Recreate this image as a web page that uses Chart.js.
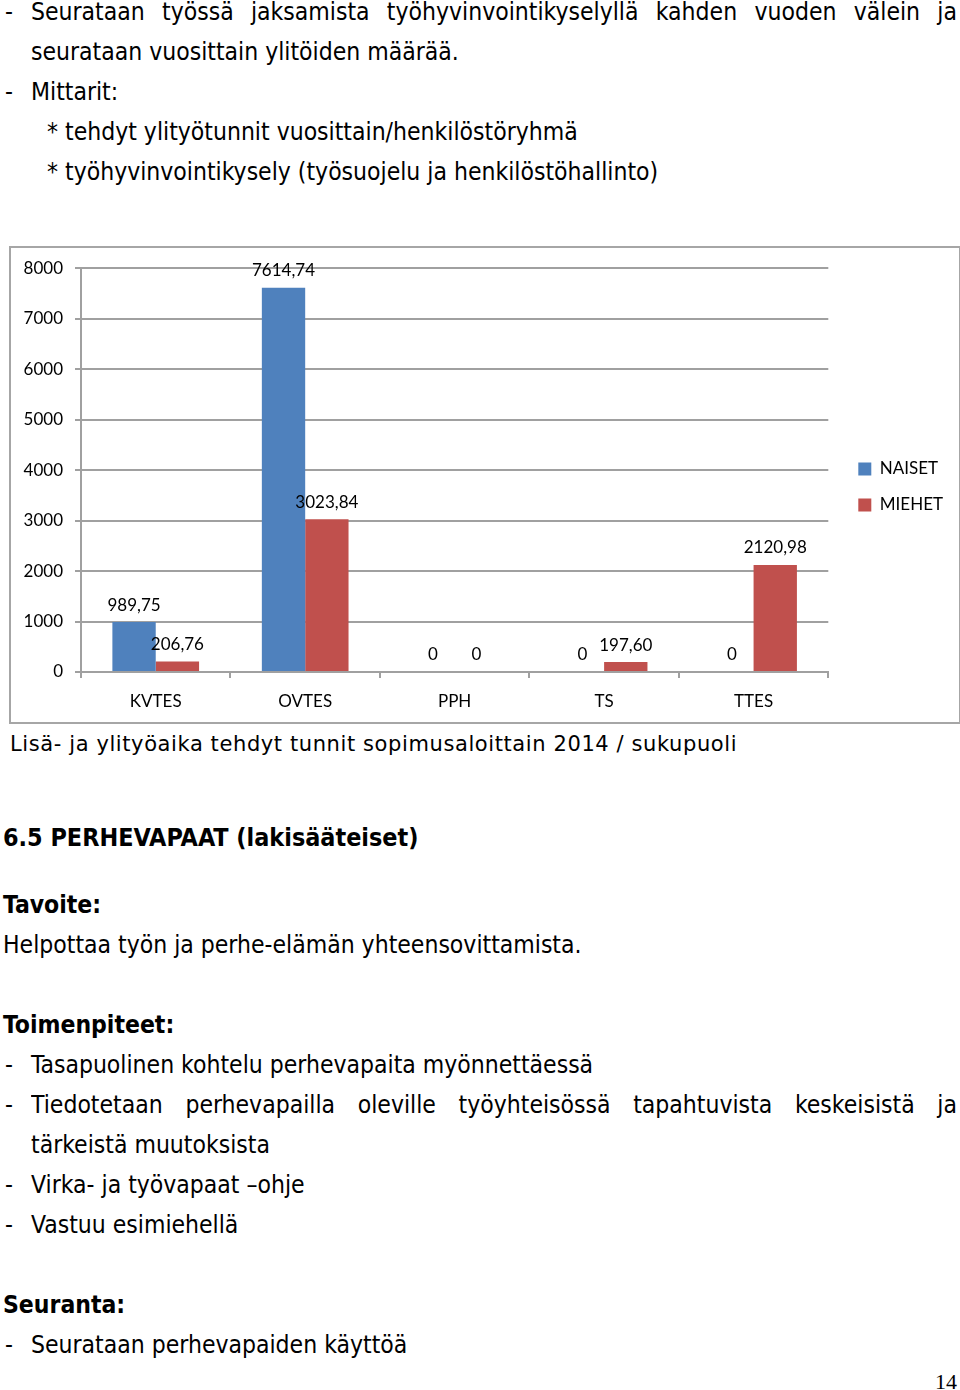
<!DOCTYPE html>
<html><head><meta charset="utf-8">
<script src="https://cdn.jsdelivr.net/npm/chart.js@4.4.1/dist/chart.umd.min.js"></script>
<style>
html,body{margin:0;padding:0;background:#fff;}
body{width:960px;height:1390px;position:relative;overflow:hidden;font-family:"DejaVu Sans Condensed","DejaVu Sans",sans-serif;font-size:24.5px;color:#000;}
.l{position:absolute;white-space:nowrap;line-height:30px;height:30px;}
.j{text-align:justify;text-align-last:justify;white-space:normal;overflow:hidden;}
.b{font-weight:bold;}
.h{font-size:24.9px;}
#box{position:absolute;left:9px;top:246px;width:948px;height:474px;border:2px solid #a6a6a6;}
#c{position:absolute;left:0;top:-2px;}
#cap{position:absolute;left:10px;top:730px;font-family:"DejaVu Sans",sans-serif;font-size:21px;letter-spacing:0.6px;line-height:28px;white-space:nowrap;}
#pg{position:absolute;left:935px;top:1368px;font-family:"Liberation Serif",serif;font-size:22px;line-height:28px;}
</style>
</head><body>
<div class="l" style="left:5px;top:-3px">-</div>
<div class="l j" style="left:31px;top:-3px;width:926px">Seurataan työssä jaksamista työhyvinvointikyselyllä kahden vuoden välein ja</div>
<div class="l" style="left:31px;top:37px">seurataan vuosittain ylitöiden määrää.</div>
<div class="l" style="left:5px;top:77px">-</div>
<div class="l" style="left:31px;top:77px">Mittarit:</div>
<div class="l" style="left:47px;top:117px">* tehdyt ylityötunnit vuosittain/henkilöstöryhmä</div>
<div class="l" style="left:47px;top:157px">* työhyvinvointikysely (työsuojelu ja henkilöstöhallinto)</div>

<div id="box"><canvas id="c" width="948" height="476"></canvas></div>
<div id="cap">Lisä- ja ylityöaika tehdyt tunnit sopimusaloittain 2014 / sukupuoli</div>

<div class="l b h" style="left:3px;top:823px">6.5 PERHEVAPAAT (lakisääteiset)</div>
<div class="l b" style="left:3px;top:890px">Tavoite:</div>
<div class="l" style="left:3px;top:930px">Helpottaa työn ja perhe-elämän yhteensovittamista.</div>
<div class="l b" style="left:3px;top:1010px">Toimenpiteet:</div>
<div class="l" style="left:5px;top:1050px">-</div>
<div class="l" style="left:31px;top:1050px">Tasapuolinen kohtelu perhevapaita myönnettäessä</div>
<div class="l" style="left:5px;top:1090px">-</div>
<div class="l j" style="left:31px;top:1090px;width:926px">Tiedotetaan perhevapailla oleville työyhteisössä tapahtuvista keskeisistä ja</div>
<div class="l" style="left:31px;top:1130px">tärkeistä muutoksista</div>
<div class="l" style="left:5px;top:1170px">-</div>
<div class="l" style="left:31px;top:1170px">Virka- ja työvapaat –ohje</div>
<div class="l" style="left:5px;top:1210px">-</div>
<div class="l" style="left:31px;top:1210px">Vastuu esimiehellä</div>
<div class="l b" style="left:3px;top:1290px">Seuranta:</div>
<div class="l" style="left:5px;top:1330px">-</div>
<div class="l" style="left:31px;top:1330px">Seurataan perhevapaiden käyttöä</div>
<div id="pg">14</div>

<script>
const categories = ['KVTES', 'OVTES', 'PPH', 'TS', 'TTES'];
const naiset = [989.75, 7614.74, 0, 0, 0];
const miehet = [206.76, 3023.84, 0, 197.60, 2120.98];
const seriesNames = ['NAISET', 'MIEHET'];
const yMin = 0, yMax = 8000, yStep = 1000;

const FONT = 'Lato';
const gridColor = '#a0a0a0';

function fmt(v) { return v === 0 ? '0' : v.toFixed(2).replace('.', ','); }

const valueLabels = {
  id: 'valueLabels',
  afterDatasetsDraw(chart) {
    const ctx = chart.ctx;
    ctx.save();
    ctx.font = '17px ' + FONT;
    ctx.fillStyle = '#000';
    ctx.textAlign = 'center';
    ctx.textBaseline = 'middle';
    chart.data.datasets.forEach((ds, i) => {
      chart.getDatasetMeta(i).data.forEach((bar, j) => {
        ctx.fillText(fmt(ds.data[j]), bar.x, bar.y - 17);
      });
    });
    ctx.restore();
  }
};

function draw() {
  new Chart(document.getElementById('c'), {
    type: 'bar',
    data: {
      labels: categories,
      datasets: [
        { label: seriesNames[0], data: naiset, backgroundColor: '#4F81BD', yAxisID: 'y' },
        { label: seriesNames[1], data: miehet, backgroundColor: '#C0504D', yAxisID: 'y' }
      ]
    },
    options: {
      responsive: false,
      animation: false,
      events: [],
      datasets: { bar: { barPercentage: 1, categoryPercentage: 0.58 } },
      layout: { padding: { left: 12, top: 18, right: 6, bottom: 12 } },
      plugins: {
        tooltip: { enabled: false },
        legend: {
          position: 'right',
          labels: { boxWidth: 13, boxHeight: 13, padding: 19, color: '#000', font: { family: FONT, size: 17 } }
        }
      },
      scales: {
        x: {
          grid: { display: true, drawOnChartArea: false, drawTicks: true, tickLength: 6, color: gridColor, lineWidth: 2 },
          border: { display: true, color: gridColor, width: 2 },
          ticks: { color: '#000', padding: 13, font: { family: FONT, size: 17 } },
          afterFit(s) { s.height = 38; }
        },
        y: {
          min: yMin, max: yMax,
          grid: { color: gridColor, lineWidth: 2, tickLength: 6 },
          border: { display: true, color: gridColor, width: 2 },
          ticks: { stepSize: yStep, color: '#000', padding: 12, font: { family: FONT, size: 17 },
                   callback: (v) => String(v) },
          afterFit(s) { s.width = 58; }
        },
        spacer: {
          type: 'linear', position: 'right', display: true,
          grid: { display: false }, border: { display: false }, ticks: { display: false },
          afterFit(s) { s.width = 11; }
        }
      }
    },
    plugins: [valueLabels]
  });
}
document.fonts.load('17px ' + FONT).then(draw, draw);
</script>
</body></html>
